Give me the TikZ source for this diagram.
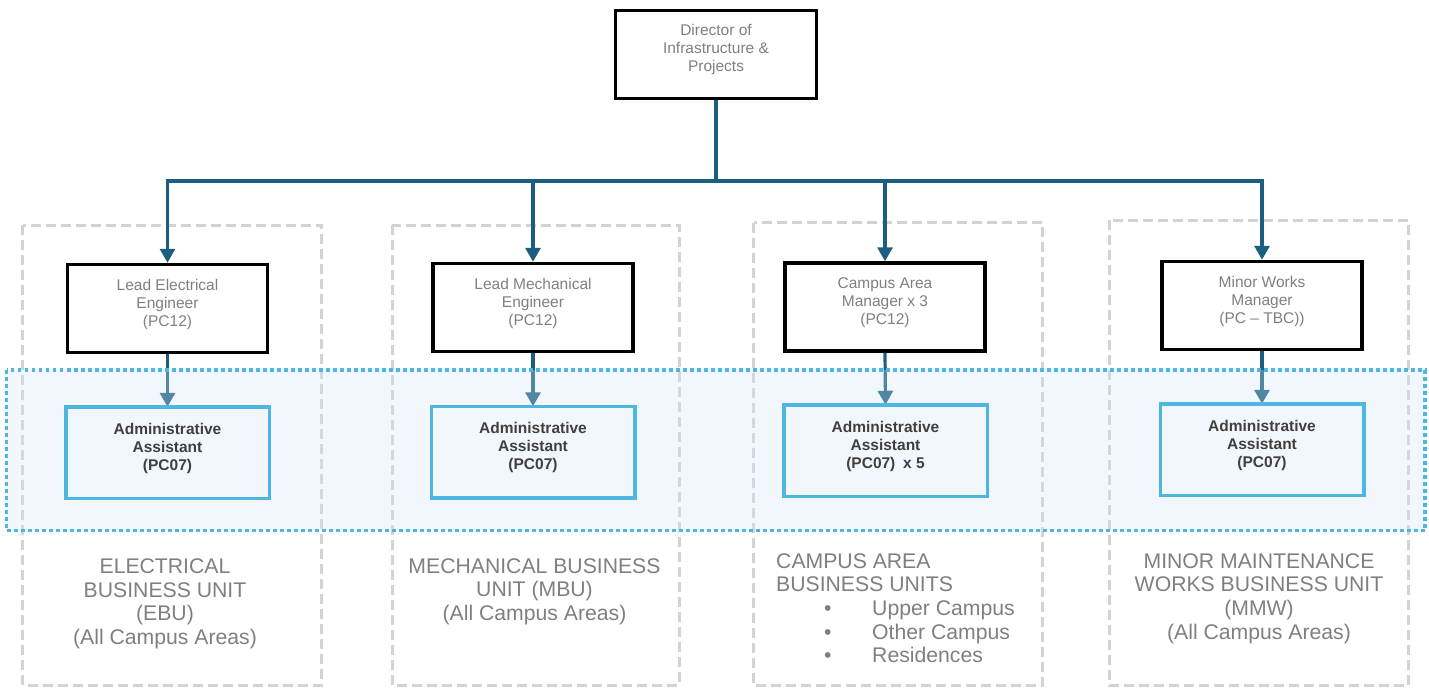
\documentclass[tikz,border=0pt]{standalone}
\usepackage{fontspec}
\setmainfont{Liberation Sans}
\usetikzlibrary{arrows.meta}
\definecolor{conn}{HTML}{1B5E80}
\definecolor{ltblue}{HTML}{4FB5E1}
\definecolor{bandfill}{RGB}{208,230,247}
\definecolor{dashgrey}{HTML}{D3D3D3}
\definecolor{txtgrey}{HTML}{7F7F7F}
\definecolor{txtdark}{HTML}{3F3F3F}
\tikzset{
  blackbox/.style={draw=black,line width=3.5pt,minimum width=200pt,minimum height=88pt,inner sep=0pt},
  bluebox/.style={draw=ltblue,line width=3.5pt,minimum width=200pt,minimum height=88pt,inner sep=0pt},
  unitframe/.style={draw=dashgrey,line width=3pt,dash pattern=on 10pt off 5pt},
  connline/.style={draw=conn,line width=3.2pt},
  arrowline/.style={connline,-{Triangle[width=15pt,length=14pt]}},
  boxtext/.style={align=center,inner sep=0pt,text=txtgrey,font=\fontsize{15.5}{18}\selectfont},
  admintext/.style={align=center,inner sep=0pt,text=txtdark,font=\fontsize{15.5}{18}\selectfont\bfseries},
  unittext/.style={align=center,inner sep=0pt,text=txtgrey,font=\fontsize{21.2}{23.7}\selectfont,anchor=north},
}
\begin{document}
\begin{tikzpicture}[x=1pt,y=-1pt]
\useasboundingbox (0,0) rectangle (1429,688);
% unit frames
\draw[unitframe] (22.5,225) rectangle (321.5,685);
\draw[unitframe] (392,225) rectangle (679,685);
\draw[unitframe] (753.5,222.5) rectangle (1042.5,685);
\draw[unitframe] (1109,220) rectangle (1408.5,685);
% director
\node[blackbox,minimum width=201pt] (dir) at (716,54.5) {};
\node[boxtext] (dirt) at ([yshift=5pt]dir.center) {Director of\\Infrastructure \&\\Projects};
% managers
\node[blackbox] (m1) at (167.5,308.5) {};
\node[blackbox] (m2) at (533,307.5) {};
\node[blackbox] (m3) at (885,307) {};
\node[blackbox] (m4) at (1262,305.5) {};
\node[boxtext] (m1t) at ([yshift=4.5pt]m1.center) {Lead Electrical\\Engineer\\(PC12)};
\node[boxtext] (m2t) at ([yshift=4.5pt]m2.center) {Lead Mechanical\\Engineer\\(PC12)};
\node[boxtext] (m3t) at ([yshift=4.5pt]m3.center) {Campus Area\\Manager x 3\\(PC12)};
\node[boxtext] (m4t) at ([yshift=4.5pt]m4.center) {Minor Works\\Manager\\(PC – TBC))};
% bus
\coordinate (bus) at (716,181);
\draw[arrowline] (dir.south) -- (bus) -| (m1.north);
\draw[arrowline] (bus) -| (m2.north);
\draw[arrowline] (bus) -| (m3.north);
\draw[arrowline] (bus) -| (m4.north);
% admin boxes (positions)
\node[bluebox,draw=none] (a1) at (167.5,452.5) {};
\node[bluebox,draw=none] (a2) at (533,452) {};
\node[bluebox,draw=none] (a3) at (885.5,450.5) {};
\node[bluebox,draw=none] (a4) at (1262,449.5) {};
\draw[arrowline] (m1.south) -- (a1.north);
\draw[arrowline] (m2.south) -- (a2.north);
\draw[arrowline] (m3.south) -- (a3.north);
\draw[arrowline] (m4.south) -- (a4.north);
% band
\fill[bandfill,fill opacity=0.3] (6.5,370) rectangle (1425,530.5);
\draw[ltblue,line width=3.5pt,dash pattern=on 3.5pt off 3.5pt] (6.5,370) rectangle (1425,530.5);
% admin borders
\foreach \n in {a1,a2,a3,a4}{\draw[ltblue,line width=3.5pt] (\n.north west) rectangle (\n.south east);}
\node[admintext] (a1t) at ([yshift=4.5pt]a1.center) {Administrative\\Assistant\\(PC07)};
\node[admintext] (a2t) at ([yshift=4.5pt]a2.center) {Administrative\\Assistant\\(PC07)};
\node[admintext] (a3t) at ([yshift=4.5pt]a3.center) {Administrative\\Assistant\\(PC07)\enspace x 5};
\node[admintext] (a4t) at ([yshift=4.5pt]a4.center) {Administrative\\Assistant\\(PC07)};
% unit texts
\node[unittext] (u1) at (165,558.5) {ELECTRICAL\\BUSINESS UNIT\\(EBU)\\(All Campus Areas)};
\node[unittext] (u2) at (534.5,558) {MECHANICAL BUSINESS\\UNIT (MBU)\\(All Campus Areas)};
\node[unittext,align=left,anchor=north west] (u3) at (776,553) {CAMPUS AREA\\BUSINESS UNITS\\
\hspace*{48pt}\makebox[48pt][l]{•}Upper Campus\\
\hspace*{48pt}\makebox[48pt][l]{•}Other Campus\\
\hspace*{48pt}\makebox[48pt][l]{•}Residences};
\node[unittext] (u4) at (1259,553) {MINOR MAINTENANCE\\WORKS BUSINESS UNIT\\(MMW)\\(All Campus Areas)};
\end{tikzpicture}
\end{document}
